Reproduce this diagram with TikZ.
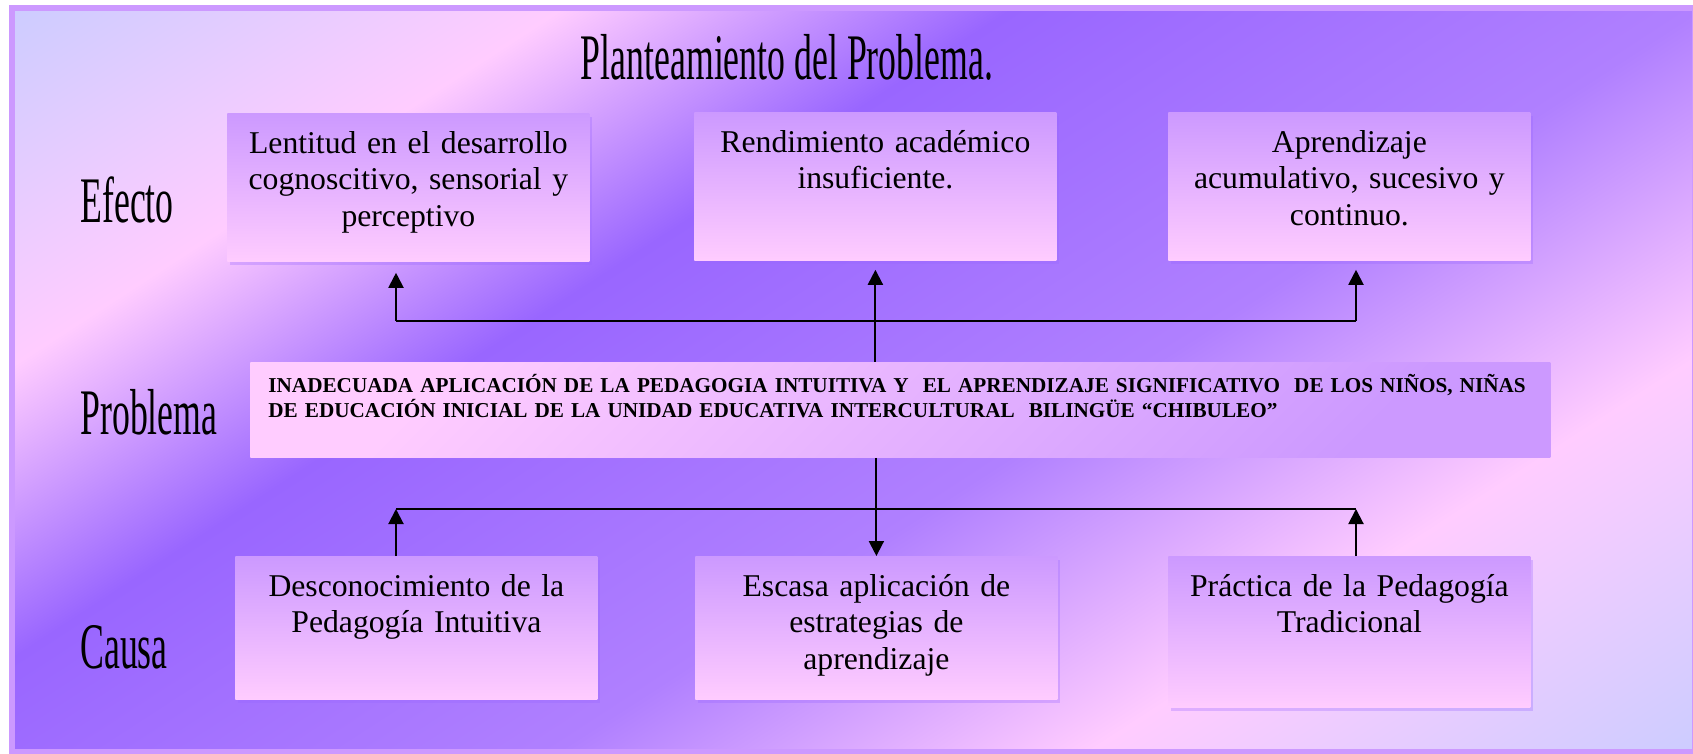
\documentclass[tikz,border=0pt]{standalone}
\usepackage{fontspec}
\setmainfont{Liberation Serif}
\usetikzlibrary{arrows.meta,shadows,calc}

\definecolor{azulclaro}{HTML}{CCCCFF}
\definecolor{rosa}{HTML}{FFCCFF}
\definecolor{violeta}{HTML}{9966FF}
\definecolor{purpura}{HTML}{B080FF}
\definecolor{lila}{HTML}{CC99FF}
\pgfdeclarehorizontalshading{fondo}{920pt}{color(0pt)=(azulclaro); color(4.5pt)=(azulclaro);
  color(155pt)=(rosa); color(277.5pt)=(violeta); color(465pt)=(purpura);
  color(610pt)=(rosa); color(775.5pt)=(azulclaro); color(780pt)=(azulclaro)}
\newcommand{\angosto}[1]{\scalebox{0.55}[1]{#1}}

\begin{document}
\begin{tikzpicture}[x=0.5pt, y=-0.5pt,
caja/.style={rectangle, inner sep=0pt, anchor=north west, text width=181pt, align=center,
  text height=20pt, top color=lila, bottom color=rosa,
  font=\fontsize{15.85}{18.25}\selectfont,
  drop shadow={shadow xshift=1.5pt, shadow yshift=-2pt, fill=violeta, opacity=.3}},
problema/.style={rectangle, inner xsep=9pt, inner ysep=0pt, anchor=north west,
  text width=632pt, align=left, text height=15pt, text depth=32.5pt,
  top color=rosa, bottom color=lila, shading angle=45,
  font=\bfseries\fontsize{10.6}{12.5}\selectfont},
rotulo/.style={anchor=base west, inner sep=0pt, font=\fontsize{32.5}{36}\selectfont},
linea/.style={line width=1pt},
flecha/.style={line width=1pt, -{Triangle[length=7.5pt,width=7.5pt]}}
]
\useasboundingbox (0,0) rectangle (1693,754);
\begin{scope}
\clip (12,8) rectangle (1695,752);
\node[inner sep=0pt, rotate=-57] (fondo) at (853.5,380) {\pgfuseshading{fondo}};
\end{scope}
\draw[lila, line width=3pt] (12,8) rectangle (1695,752);

\node[anchor=base, inner sep=0pt, font=\fontsize{32.5}{36}\selectfont] (titulo) at (787,80) {\angosto{Planteamiento del Problema.}};
\node[rotulo] (efecto) at (80,223) {\angosto{Efecto}};
\node[rotulo] (problemalbl) at (80,434) {\angosto{Problema}};
\node[rotulo] (causa) at (80,668) {\angosto{Causa}};

\node[caja, text depth=54pt] (efecto1) at (227,113) {Lentitud en el desarrollo\\ cognoscitivo, sensorial y\\ perceptivo};
\node[caja, text depth=54pt] (efecto2) at (694,112) {Rendimiento académico\\ insuficiente.};
\node[caja, text depth=54pt] (efecto3) at (1168,112) {Aprendizaje\\ acumulativo, sucesivo y\\ continuo.};

\node[problema] (problema) at (250,362) {INADECUADA APLICACIÓN DE LA PEDAGOGIA INTUITIVA Y\ \ EL APRENDIZAJE SIGNIFICATIVO\ \ DE LOS NIÑOS, NIÑAS\\ DE EDUCACIÓN INICIAL DE LA UNIDAD EDUCATIVA INTERCULTURAL\ \ BILINGÜE “CHIBULEO”};

\node[caja, text depth=51.5pt] (causa1) at (235,556) {Desconocimiento de la\\ Pedagogía Intuitiva};
\node[caja, text depth=51.5pt] (causa2) at (695,556) {Escasa aplicación de\\ estrategias de\\ aprendizaje};
\node[caja, text depth=55.5pt] (causa3) at (1168,556) {Práctica de la Pedagogía\\ Tradicional};

\coordinate (ei) at (396,321);
\coordinate (ed) at (1356,321);
\draw[linea] (ei) -- (ed);
\draw[flecha, shorten >=5.5pt] (ei) -- (ei |- efecto1.south);
\draw[flecha, shorten >=4.5pt] (problema.north -| efecto2.south) -- (efecto2.south);
\draw[flecha, shorten >=4.5pt] (ed) -- (ed |- efecto3.south);

\coordinate (ci) at (396,509);
\coordinate (cd) at (1356,509);
\draw[linea] (ci) -- (cd);
\draw[flecha] (ci |- causa1.north) -- (ci);
\draw[flecha] (problema.south -| causa2.north) -- (causa2.north);
\draw[flecha] (cd |- causa3.north) -- (cd);
\end{tikzpicture}
\end{document}
